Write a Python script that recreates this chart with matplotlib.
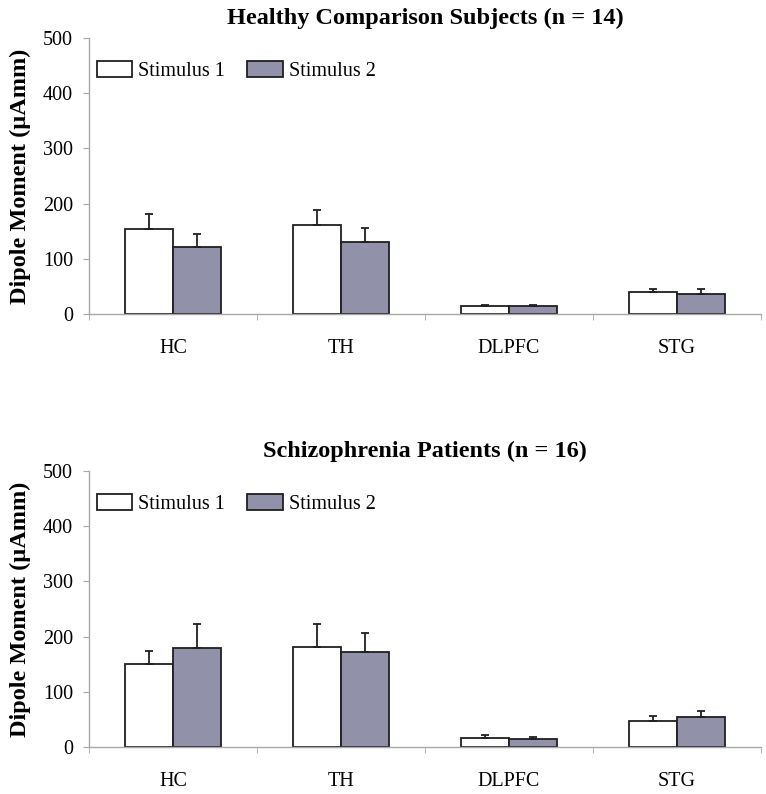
import numpy as np
import matplotlib
matplotlib.use("Agg")
import matplotlib.pyplot as plt
from matplotlib.patches import Patch

regions = ["HC", "TH", "DLPFC", "STG"]
series_names = ["Stimulus 1", "Stimulus 2"]

# Healthy comparison subjects (n = 14): means and upper error bar tops
healthy_s1 = [154, 161, 15, 39]
healthy_s2 = [121, 131, 15, 37]
healthy_s1_err = [28, 27, 2, 6]
healthy_s2_err = [24, 24, 2, 8]

# Schizophrenia patients (n = 16)
patient_s1 = [150, 182, 16, 47]
patient_s2 = [180, 172, 14.5, 54]
patient_s1_err = [24, 41, 5, 9]
patient_s2_err = [43, 35, 4.5, 12]

titles = ["Healthy Comparison Subjects (n = 14)", "Schizophrenia Patients (n = 16)"]
yticks = [0, 100, 200, 300, 400, 500]

plt.rcParams['font.family'] = ['Liberation Serif', 'DejaVu Serif']

fill_colors = ["white", "#9191A9"]
edge = "#202020"
axis_grey = "#A8A8A8"

fig = plt.figure(figsize=(7.66, 7.94), dpi=100)
panel_boxes = [[0.1162, 0.6045, 0.8773, 0.3476], [0.1162, 0.0592, 0.8773, 0.3476]]
panel_data = [
    (healthy_s1, healthy_s2, healthy_s1_err, healthy_s2_err),
    (patient_s1, patient_s2, patient_s1_err, patient_s2_err),
]

x = np.arange(len(regions))
width = 0.286

for box, title, (s1, s2, e1, e2) in zip(panel_boxes, titles, panel_data):
    ax = fig.add_axes(box)
    zeros = np.zeros(len(regions))
    ax.bar(x - width / 2, s1, width, color=fill_colors[0], edgecolor=edge,
           linewidth=1.3, yerr=[zeros, e1], zorder=2,
           error_kw=dict(ecolor=edge, elinewidth=1.3, capsize=3, capthick=1.3))
    ax.bar(x + width / 2, s2, width, color=fill_colors[1], edgecolor=edge,
           linewidth=1.3, yerr=[zeros, e2], zorder=2,
           error_kw=dict(ecolor=edge, elinewidth=1.3, capsize=3, capthick=1.3))

    ax.set_xlim(-0.5, len(regions) - 0.5)
    ax.set_ylim(0, 500)
    ax.set_yticks(yticks)
    ax.tick_params(axis='y', labelsize=14.5, length=4.5, color=axis_grey, pad=7,
                   direction='out')
    ax.set_xticks(x)
    ax.set_xticklabels(regions)
    ax.tick_params(axis='x', which='major', length=0, labelsize=14.5, pad=18)
    ax.set_xticks(np.arange(-0.5, len(regions)), minor=True)
    ax.tick_params(axis='x', which='minor', length=4.5, color=axis_grey, direction='out')

    for side in ['top', 'right']:
        ax.spines[side].set_visible(False)
    for side in ['left', 'bottom']:
        ax.spines[side].set_color(axis_grey)
        ax.spines[side].set_linewidth(1.0)

    ax.set_title(title, fontsize=17.5, fontweight='bold', pad=10)
    ax.set_ylabel("Dipole Moment (µAmm)", fontsize=17.5, fontweight='bold')
    ax.yaxis.set_label_coords(-0.086, 0.5)

    handles = [Patch(facecolor=fill_colors[i], edgecolor=edge, linewidth=1.3)
               for i in range(2)]
    ax.legend(handles, series_names, loc='center left', bbox_to_anchor=(0.012, 0.88),
              ncol=2, frameon=False, fontsize=14.5, handlelength=1.75,
              handleheight=0.8, handletextpad=0.3, columnspacing=1.1,
              borderpad=0, borderaxespad=0)

fig.savefig("out.png", dpi=100)
